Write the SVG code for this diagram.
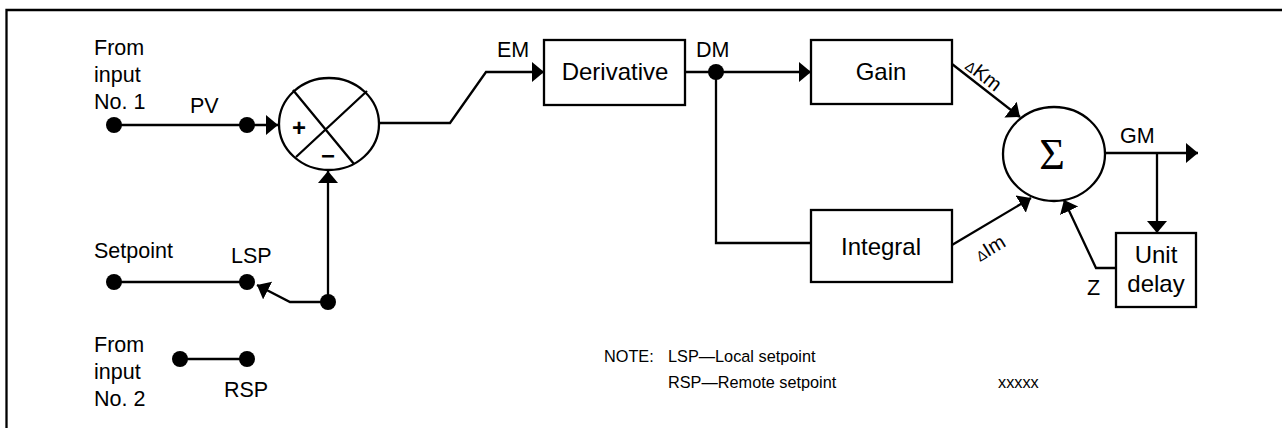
<svg xmlns="http://www.w3.org/2000/svg" width="1282" height="428" viewBox="0 0 1282 428">
  <style>
    .ln { fill: none; stroke: #000; stroke-width: 2.3; stroke-linejoin: miter; }
    .box { fill: #fff; stroke: #000; stroke-width: 2.3; }
    .dot { fill: #000; }
    .lbl { font-family: "Liberation Sans", Arial, sans-serif; font-size: 21.5px; fill: #000; }
    .blk { font-family: "Liberation Sans", Arial, sans-serif; font-size: 24px; fill: #000; text-anchor: middle; }
    .sm { font-family: "Liberation Sans", Arial, sans-serif; font-size: 20px; fill: #000; }
    .note { font-family: "Liberation Sans", Arial, sans-serif; font-size: 16.3px; fill: #000; }
  </style>
  <defs>
    <marker id="arr" markerUnits="userSpaceOnUse" markerWidth="13" markerHeight="21" refX="12" refY="10" orient="auto">
      <path d="M0,0 L12,10 L0,20 z" fill="#000"/>
    </marker>
  </defs>

  <!-- frame -->
  <path class="ln" d="M6.5,428 V10 H1282" stroke-width="1.6"/>

  <!-- connectors -->
  <g id="connectors">
    <path class="ln" d="M114,125 H278" marker-end="url(#arr)"/>
    <path class="ln" d="M379,123 H450 L486,72 H544" marker-end="url(#arr)"/>
    <path class="ln" d="M685,72 H811" marker-end="url(#arr)"/>
    <path class="ln" d="M716,72 V243 H811"/>
    <path class="ln" d="M952,64 L1020,117" marker-end="url(#arr)"/>
    <path class="ln" d="M952,245 L1031,198" marker-end="url(#arr)"/>
    <path class="ln" d="M1105,153 H1198" marker-end="url(#arr)"/>
    <path class="ln" d="M1157,153 V233" marker-end="url(#arr)"/>
    <path class="ln" d="M1116,268 H1096 L1064,200" marker-end="url(#arr)"/>
    <path class="ln" d="M114,282 H247"/>
    <path class="ln" d="M328,302 H290 L257,285" marker-end="url(#arr)"/>
    <path class="ln" d="M328,302 V171" marker-end="url(#arr)"/>
    <path class="ln" d="M180,359 H247"/>
  </g>

  <!-- terminals -->
  <g id="terminals">
    <circle class="dot" cx="114" cy="125" r="8"/>
    <circle class="dot" cx="247" cy="125" r="8"/>
    <circle class="dot" cx="114" cy="282" r="8"/>
    <circle class="dot" cx="247" cy="282" r="8"/>
    <circle class="dot" cx="328" cy="302" r="8"/>
    <circle class="dot" cx="180" cy="359" r="8"/>
    <circle class="dot" cx="247" cy="359" r="8"/>
    <circle class="dot" cx="716" cy="72" r="8"/>
  </g>

  <!-- comparator -->
  <g id="comparator">
    <ellipse class="box" cx="329" cy="124" rx="50" ry="46"/>
    <path class="ln" d="M293,90 L354,164 M367,91 L296,157"/>
    <text class="blk" x="299" y="136" font-weight="bold" font-size="29">+</text>
    <text class="blk" x="328" y="164" font-weight="bold" font-size="30">−</text>
  </g>

  <g id="derivative">
    <rect class="box" x="544" y="40" width="141" height="65"/>
    <text class="blk" x="615" y="80">Derivative</text>
  </g>

  <g id="gain">
    <rect class="box" x="811" y="40" width="141" height="64"/>
    <text class="blk" x="881" y="80">Gain</text>
  </g>

  <g id="integral">
    <rect class="box" x="811" y="210" width="141" height="72"/>
    <text class="blk" x="881" y="255">Integral</text>
  </g>

  <g id="summer">
    <ellipse class="box" cx="1054" cy="154" rx="51" ry="47"/>
    <text x="1052" y="169" text-anchor="middle" font-family="Liberation Serif, 'Times New Roman', serif" font-size="44">Σ</text>
  </g>

  <g id="unit-delay">
    <rect class="box" x="1116" y="233" width="80" height="74"/>
    <text class="blk" x="1156" y="263">Unit</text>
    <text class="blk" x="1156" y="292">delay</text>
  </g>

  <!-- signal labels -->
  <g id="labels">
    <text class="lbl" x="94" y="55">From</text>
    <text class="lbl" x="94" y="82">input</text>
    <text class="lbl" x="94" y="109">No. 1</text>
    <text class="lbl" x="190" y="113">PV</text>
    <text class="lbl" x="94" y="258">Setpoint</text>
    <text class="lbl" x="231" y="263">LSP</text>
    <text class="lbl" x="94" y="352">From</text>
    <text class="lbl" x="94" y="379">input</text>
    <text class="lbl" x="94" y="406">No. 2</text>
    <text class="lbl" x="224" y="397">RSP</text>
    <text class="lbl" x="497" y="57">EM</text>
    <text class="lbl" x="696" y="57">DM</text>
    <text class="lbl" x="1120" y="143">GM</text>
    <text class="lbl" x="1087" y="295">Z</text>
    <text class="sm" transform="translate(964,68) rotate(38)"><tspan font-size="14">Δ</tspan>Km</text>
    <text class="sm" transform="translate(980,262) rotate(-31)"><tspan font-size="14">Δ</tspan>Im</text>
  </g>

  <g id="note">
    <text class="note" x="604" y="362">NOTE:</text>
    <text class="note" x="668" y="362">LSP—Local setpoint</text>
    <text class="note" x="668" y="388">RSP—Remote setpoint</text>
    <text class="note" x="998" y="388" font-size="15">xxxxx</text>
  </g>
</svg>
